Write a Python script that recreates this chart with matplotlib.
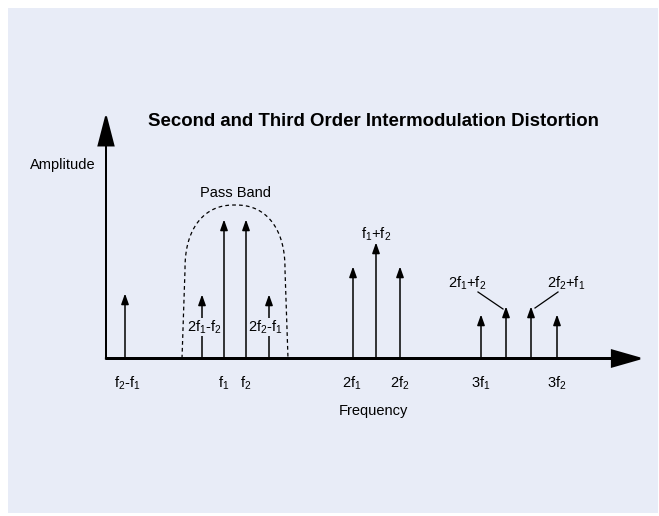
import numpy as np
import matplotlib
matplotlib.use('Agg')
import matplotlib.pyplot as plt
from matplotlib.patches import Rectangle

plt.rcParams['font.family'] = ['Liberation Sans', 'DejaVu Sans']
plt.rcParams['mathtext.default'] = 'regular'

# spectral lines: position along frequency axis and amplitude (baseline = 0)
freqs = [125, 202, 224, 246, 269, 353, 376, 400, 481, 506, 531, 557]
amps = [65, 64, 139, 139, 64, 92, 116, 92, 44, 52, 52, 44]

# tick labels under the frequency axis
tick_pos = [127, 224, 246, 352, 400, 481, 557]
tick_labels = ['f$_2$-f$_1$', 'f$_1$', 'f$_2$', '2f$_1$', '2f$_2$', '3f$_1$', '3f$_2$']

# product labels next to the lines
prod_labels = ['2f$_1$-f$_2$', '2f$_2$-f$_1$', 'f$_1$+f$_2$', '2f$_1$+f$_2$', '2f$_2$+f$_1$']
prod_x = [204, 265, 376, 467, 566]
prod_y = [31.5, 31.5, 124, 75.5, 75.5]

bg = '#e8ecf7'

fig = plt.figure(figsize=(6.59, 5.16), dpi=100)
ax = fig.add_axes([0, 0, 1, 1])
ax.set_xlim(0, 659)
ax.set_ylim(-157.5, 358.5)
ax.axis('off')

# panel background
ax.add_patch(Rectangle((8, -154.5), 650, 505, facecolor=bg, edgecolor='none', zorder=0))

# axes arrows
ax.arrow(106, 0, 534, 0, head_width=16, head_length=28, length_includes_head=True,
         lw=1.6, fc='black', ec='black', zorder=3)
ax.arrow(106, 0, 0, 242, head_width=15, head_length=29, length_includes_head=True,
         lw=1.4, fc='black', ec='black', zorder=3)

# spectral lines
for x, a in zip(freqs, amps):
    ax.annotate('', xy=(x, a), xytext=(x, 0),
                arrowprops=dict(arrowstyle='-|>,head_length=0.45,head_width=0.16',
                                mutation_scale=14, lw=1.1, color='black',
                                shrinkA=0, shrinkB=0), zorder=2)

# pass band outline (rounded top on slightly flared sides)
t = np.linspace(np.pi, 0, 80)
cx, cy, rx, ry, n = 235, 88.5, 50, 65, 2.3
c, s = np.cos(t), np.sin(t)
ex = cx + rx * np.sign(c) * np.abs(c) ** (2 / n)
ey = cy + ry * np.abs(s) ** (2 / n)
px = np.concatenate([[182], ex, [288]])
py = np.concatenate([[0], ey, [0]])
ax.plot(px, py, color='black', lw=0.9, ls=(0, (3, 2.5)), zorder=1)
ax.text(235, 165.5, 'Pass Band', ha='center', va='center', fontsize=10.5)

# tick labels
for x, lab in zip(tick_pos, tick_labels):
    ax.text(x, -24.5, lab, ha='center', va='center', fontsize=10.5)

# product labels (the in-band ones hide the line behind them)
for i, (x, y, lab) in enumerate(zip(prod_x, prod_y, prod_labels)):
    box = dict(facecolor=bg, edgecolor='none', pad=0.5) if i < 2 else None
    ax.text(x, y, lab, ha='center', va='center', fontsize=10.5, bbox=box, zorder=4)

# leader lines for third order sum products
ax.plot([478, 503], [66.5, 49.5], color='black', lw=0.9)
ax.plot([535, 558], [50.5, 66.5], color='black', lw=0.9)

ax.text(373, -52.5, 'Frequency', ha='center', va='center', fontsize=10.5)
ax.text(63, 193.5, 'Amplitude', ha='center', va='center', fontsize=10.5)
ax.text(373, 236.5, 'Second and Third Order Intermodulation Distortion',
        ha='center', va='center', fontsize=13.4, fontweight='bold')

fig.savefig('out.png', dpi=100)
